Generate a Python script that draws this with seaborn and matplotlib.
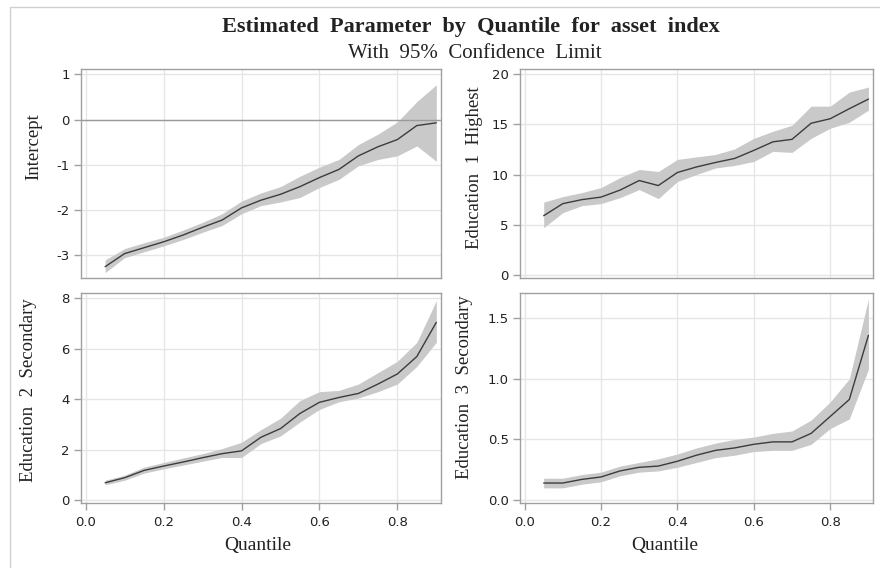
import matplotlib
matplotlib.use("Agg")
import matplotlib.pyplot as plt
import seaborn as sns
import pandas as pd
from matplotlib.patches import Rectangle

quantiles = [0.05, 0.10, 0.15, 0.20, 0.25, 0.30, 0.35, 0.40, 0.45,
             0.50, 0.55, 0.60, 0.65, 0.70, 0.75, 0.80, 0.85, 0.90]

intercept_est = [-3.25, -2.96, -2.83, -2.70, -2.55, -2.38, -2.22, -1.95, -1.78,
                 -1.65, -1.48, -1.28, -1.10, -0.80, -0.60, -0.44, -0.13, -0.07]
intercept_lo = [-3.38, -3.05, -2.92, -2.79, -2.65, -2.49, -2.34, -2.08, -1.90,
                -1.82, -1.72, -1.50, -1.32, -1.02, -0.88, -0.80, -0.58, -0.92]
intercept_hi = [-3.10, -2.85, -2.72, -2.60, -2.44, -2.27, -2.08, -1.80, -1.62,
                -1.48, -1.25, -1.05, -0.88, -0.55, -0.32, -0.05, 0.40, 0.77]

edu1_est = [5.9, 7.1, 7.5, 7.75, 8.45, 9.4, 8.9, 10.2, 10.75,
            11.2, 11.6, 12.4, 13.25, 13.5, 15.1, 15.55, 16.55, 17.5]
edu1_lo = [4.7, 6.2, 6.9, 7.1, 7.7, 8.5, 7.6, 9.3, 10.0,
           10.65, 10.9, 11.3, 12.3, 12.2, 13.6, 14.6, 15.2, 16.4]
edu1_hi = [7.25, 7.8, 8.2, 8.7, 9.7, 10.5, 10.3, 11.5, 11.75,
           12.0, 12.55, 13.6, 14.3, 14.9, 16.8, 16.8, 18.2, 18.7]

edu2_est = [0.70, 0.90, 1.19, 1.36, 1.52, 1.69, 1.85, 1.96, 2.50,
            2.84, 3.44, 3.88, 4.07, 4.23, 4.60, 5.00, 5.69, 7.04]
edu2_lo = [0.62, 0.80, 1.08, 1.25, 1.40, 1.55, 1.70, 1.70, 2.25,
           2.55, 3.10, 3.60, 3.90, 4.05, 4.30, 4.60, 5.30, 6.25]
edu2_hi = [0.80, 1.00, 1.32, 1.50, 1.68, 1.85, 2.05, 2.30, 2.80,
           3.25, 3.95, 4.30, 4.35, 4.60, 5.05, 5.50, 6.25, 7.90]

edu3_est = [0.14, 0.14, 0.17, 0.19, 0.24, 0.27, 0.28, 0.32, 0.37,
            0.41, 0.43, 0.46, 0.48, 0.48, 0.55, 0.69, 0.83, 1.36]
edu3_lo = [0.10, 0.10, 0.13, 0.15, 0.20, 0.23, 0.24, 0.27, 0.31,
           0.35, 0.37, 0.40, 0.41, 0.41, 0.46, 0.59, 0.67, 1.08]
edu3_hi = [0.18, 0.18, 0.21, 0.23, 0.28, 0.31, 0.34, 0.38, 0.43,
           0.47, 0.50, 0.52, 0.55, 0.57, 0.66, 0.81, 1.00, 1.66]

panel_labels = ["Intercept", "Education  1  Highest",
                "Education  2  Secondary", "Education  3  Secondary"]
x_ticks = [0.0, 0.2, 0.4, 0.6, 0.8]
x_ticklabels = ["0.0", "0.2", "0.4", "0.6", "0.8"]
y_ticks = [[-3, -2, -1, 0, 1], [0, 5, 10, 15, 20], [0, 2, 4, 6, 8], [0.0, 0.5, 1.0, 1.5]]
y_ticklabels = [["-3", "-2", "-1", "0", "1"], ["0", "5", "10", "15", "20"],
                ["0", "2", "4", "6", "8"], ["0.0", "0.5", "1.0", "1.5"]]
y_limits = [(-3.5, 1.12), (-0.3, 20.5), (-0.1, 8.2), (-0.025, 1.71)]

series = [(intercept_est, intercept_lo, intercept_hi),
          (edu1_est, edu1_lo, edu1_hi),
          (edu2_est, edu2_lo, edu2_hi),
          (edu3_est, edu3_lo, edu3_hi)]

sns.set_style("white")
plt.rcParams["font.family"] = ["DejaVu Sans"]

W, H = 880, 568
fig = plt.figure(figsize=(W / 100, H / 100), dpi=100)

def fx(px):
    return px / W

def fy(py):
    return 1 - py / H

boxes = [(81, 69, 441, 278), (520, 69, 873, 278),
         (81, 293, 441, 503), (520, 293, 873, 503)]
ylabel_pos = [(-0.108, 0.627), (-0.105, 0.526), (-0.122, 0.538), (-0.133, 0.552)]
xlabel_pos = [None, None, (0.492, -0.162), (0.411, -0.162)]

frame_col = "#a0a0a0"
grid_col = "#e6e6e6"
band_col = "#c9c9c9"
line_col = "#3c3c3c"
serif = "Liberation Serif"

for i, (box, (est, lo, hi)) in enumerate(zip(boxes, series)):
    l, t, r, b = box
    ax = fig.add_axes([fx(l), fy(b), fx(r) - fx(l), fy(t) - fy(b)])
    df = pd.DataFrame({"q": quantiles, "est": est, "lo": lo, "hi": hi})
    ax.fill_between(df["q"], df["lo"], df["hi"], color=band_col, lw=0, zorder=2)
    sns.lineplot(data=df, x="q", y="est", ax=ax, color=line_col, lw=1.0, zorder=3)
    if i == 0:
        ax.axhline(0, color="#9a9a9a", lw=1.0, zorder=2.5)
    ax.set_xlim(-0.012, 0.912)
    ax.set_ylim(*y_limits[i])
    ax.set_xticks(x_ticks)
    ax.set_yticks(y_ticks[i])
    ax.set_yticklabels(y_ticklabels[i])
    ax.grid(True, color=grid_col, lw=1.0, zorder=0)
    ax.set_axisbelow(True)
    for s in ax.spines.values():
        s.set_color(frame_col)
        s.set_linewidth(1.0)
    ax.tick_params(axis="y", length=5, width=1, color=frame_col,
                   labelsize=9.5, labelcolor="#222222", pad=3, left=True)
    if i >= 2:
        ax.set_xticklabels(x_ticklabels)
        ax.tick_params(axis="x", length=5, width=1, color=frame_col,
                       labelsize=9.5, labelcolor="#222222", pad=4, bottom=True)
        ax.set_xlabel("Quantile", family=serif, fontsize=14, color="#222222")
        ax.xaxis.set_label_coords(*xlabel_pos[i])
    else:
        ax.set_xticklabels([])
        ax.tick_params(axis="x", length=0)
        ax.set_xlabel("")
    ax.set_ylabel(panel_labels[i], family=serif, fontsize=13.5, color="#222222")
    ax.yaxis.set_label_coords(*ylabel_pos[i])

fig.text(fx(471), fy(27), "Estimated  Parameter  by  Quantile  for  asset  index",
         ha="center", va="center", family=serif, fontweight="bold", fontsize=16,
         color="#222222")
fig.text(fx(475), fy(54), "With  95%  Confidence  Limit", ha="center", va="center",
         family=serif, fontsize=15, color="#222222")

fig.patches.append(Rectangle((fx(10), fy(600)), fx(900), fy(7) - fy(600),
                             transform=fig.transFigure, fill=False,
                             edgecolor="#d0d0d0", lw=1.0))

fig.savefig("out.png", dpi=100)
